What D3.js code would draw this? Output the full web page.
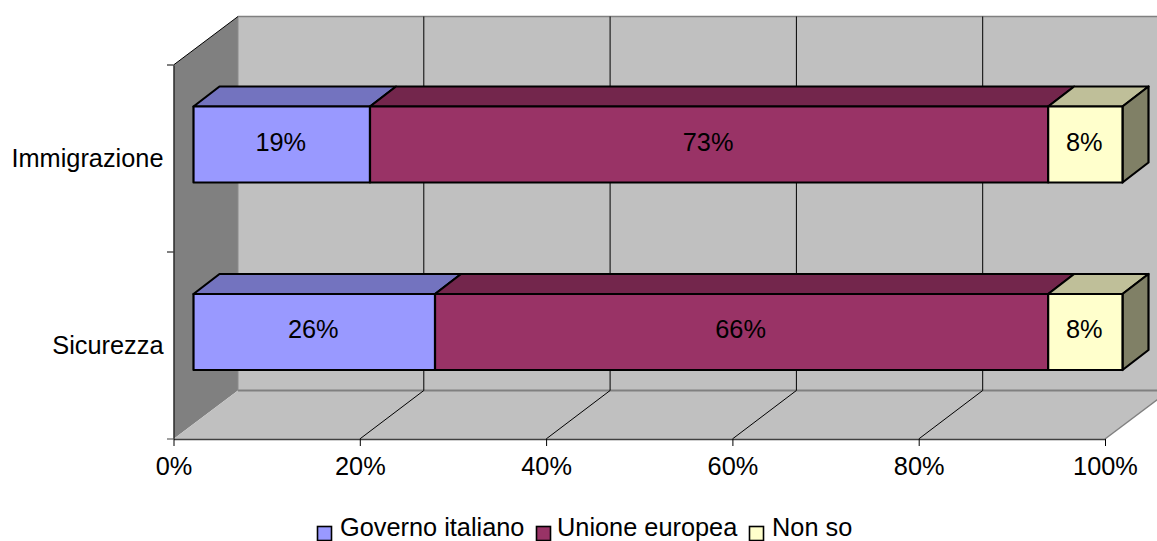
<!DOCTYPE html>
<html><head><meta charset="utf-8">
<script src="https://cdn.jsdelivr.net/npm/d3@7"></script>
<style>
html,body{margin:0;padding:0;background:#fff;overflow:hidden}
svg{display:block}
text{font-family:"Liberation Sans",Arial,sans-serif;font-size:25.33px;fill:#000}
</style></head><body>
<svg id="c" width="1157" height="541"></svg>
<script>
const categories = ["Immigrazione","Sicurezza"];
const seriesNames = ["Governo italiano","Unione europea","Non so"];
const governoItaliano = [19,26];
const unioneEuropea = [73,66];
const nonSo = [8,8];
const xTicks = [0,20,40,60,80,100];
const frontColors = ["#9999FF","#993366","#FFFFCC"];
const topColors = ["#7373BF","#73264C","#BFBF99"];
const sideColors = ["#7373BF","#73264C","#808066"];

const svg=d3.select("#c");
const x=d3.scaleLinear().domain([0,100]).range([173.5,1105]);
const barX=d3.scaleLinear().domain([0,100]).range([193.5,1122.5]);
const y=d3.scaleBand().domain(categories).range([65,439]);
const dx=64.5,dy=-48.5;       // plot depth
const bx=26,by=-20;           // bar depth
const x0=x(0),x1=x(100),yT=y.range()[0],yB=y.range()[1];
const poly=(pts,fill)=>svg.append("polygon").attr("points",pts.map(p=>p.join(",")).join(" ")).attr("fill",fill);
const line=(a,b,c,w)=>svg.append("line").attr("x1",a[0]).attr("y1",a[1]).attr("x2",b[0]).attr("y2",b[1]).attr("stroke",c).attr("stroke-width",w);

// walls
poly([[x0+dx,yT+dy],[x1+dx,yT+dy],[x1+dx,yB+dy],[x0+dx,yB+dy]],"#C0C0C0");
poly([[x0,yT],[x0+dx,yT+dy],[x0+dx,yB+dy],[x0,yB]],"#808080");
poly([[x0,yB],[x0+dx,yB+dy],[x1+dx,yB+dy],[x1,yB]],"#C0C0C0");
line([x0+dx,yT+dy],[x1+dx,yT+dy],"#808080",1.5);
line([x0+dx,yB+dy],[x1+dx,yB+dy],"#808080",2);
line([x0+dx,yT+dy],[x0+dx,yB+dy],"#8c8c8c",1);
line([x1,yB],[x1+dx,yB+dy],"#808080",1.5);
line([x0,yT],[x0+dx,yT+dy],"#000",1);

// gridlines
xTicks.slice(1).forEach(t=>{
  line([x(t)+dx-0.5,yT+dy],[x(t)+dx-0.5,yB+dy],"#000",1);
  if(t<100) line([x(t),yB],[x(t)+dx-0.5,yB+dy],"#000",1);
});

// stacked 3D bars
const rows=categories.map((c,i)=>({cat:c,a:governoItaliano[i],b:unioneEuropea[i],c:nonSo[i]}));
const stack=d3.stack().keys(["a","b","c"])(rows);
const barH=76;
stack.forEach((layer,si)=>{
  layer.forEach((d,i)=>{
    const cat=categories[i];
    const top=y(cat)+y.bandwidth()/2-14-barH/2+i*0.5, bot=top+barH;
    const l=barX(d[0]), r=barX(d[1]);
    const g=svg.append("g").attr("stroke","#000").attr("stroke-width",2.2).attr("stroke-linejoin","round");
    g.append("polygon").attr("fill",topColors[si]).attr("points",[[l,top],[l+bx,top+by],[r+bx,top+by],[r,top]].join(" "));
    if(si===2) g.append("polygon").attr("fill",sideColors[si]).attr("points",[[r,top],[r+bx,top+by],[r+bx,bot+by],[r,bot]].join(" "));
    g.append("rect").attr("x",l).attr("y",top).attr("width",r-l).attr("height",barH).attr("fill",frontColors[si]);
    svg.append("text").attr("x",(l+r)/2-1).attr("y",top+barH/2+6).attr("text-anchor","middle").text((d[1]-d[0])+"%");
  });
});

// axes
const gx=svg.append("g").attr("transform",`translate(0,${yB})`)
  .call(d3.axisBottom(x).tickValues(xTicks).tickFormat(d=>d+"%").tickSize(7).tickSizeOuter(0).tickPadding(11));
gx.select(".domain").attr("stroke","#404040").attr("stroke-width",1.5);
gx.selectAll(".tick line").attr("stroke","#000");
gx.selectAll(".tick text").style("font-size","25.33px").attr("font-family",null);
line([167,yB],[x0,yB],"#808080",1.5);

const gy=svg.append("g").attr("transform",`translate(${x0},0)`)
  .call(d3.axisLeft(y).tickSize(0).tickPadding(10));
gy.select(".domain").attr("stroke","#000");
gy.selectAll(".tick text").style("font-size","25.33px").attr("font-family",null);
[yT,yT+y.bandwidth()].forEach(v=>line([167,v],[x0,v],"#000",1));

// legend
const legX=[317,536,749], legT=[340,557,772];
seriesNames.forEach((n,i)=>{
  svg.append("rect").attr("x",legX[i]+.5).attr("y",526.5).attr("width",14).attr("height",14).attr("fill",frontColors[i]).attr("stroke","#000").attr("stroke-width",1.6);
  svg.append("text").attr("x",legT[i]).attr("y",535.5).text(n);
});
</script>
</body></html>
